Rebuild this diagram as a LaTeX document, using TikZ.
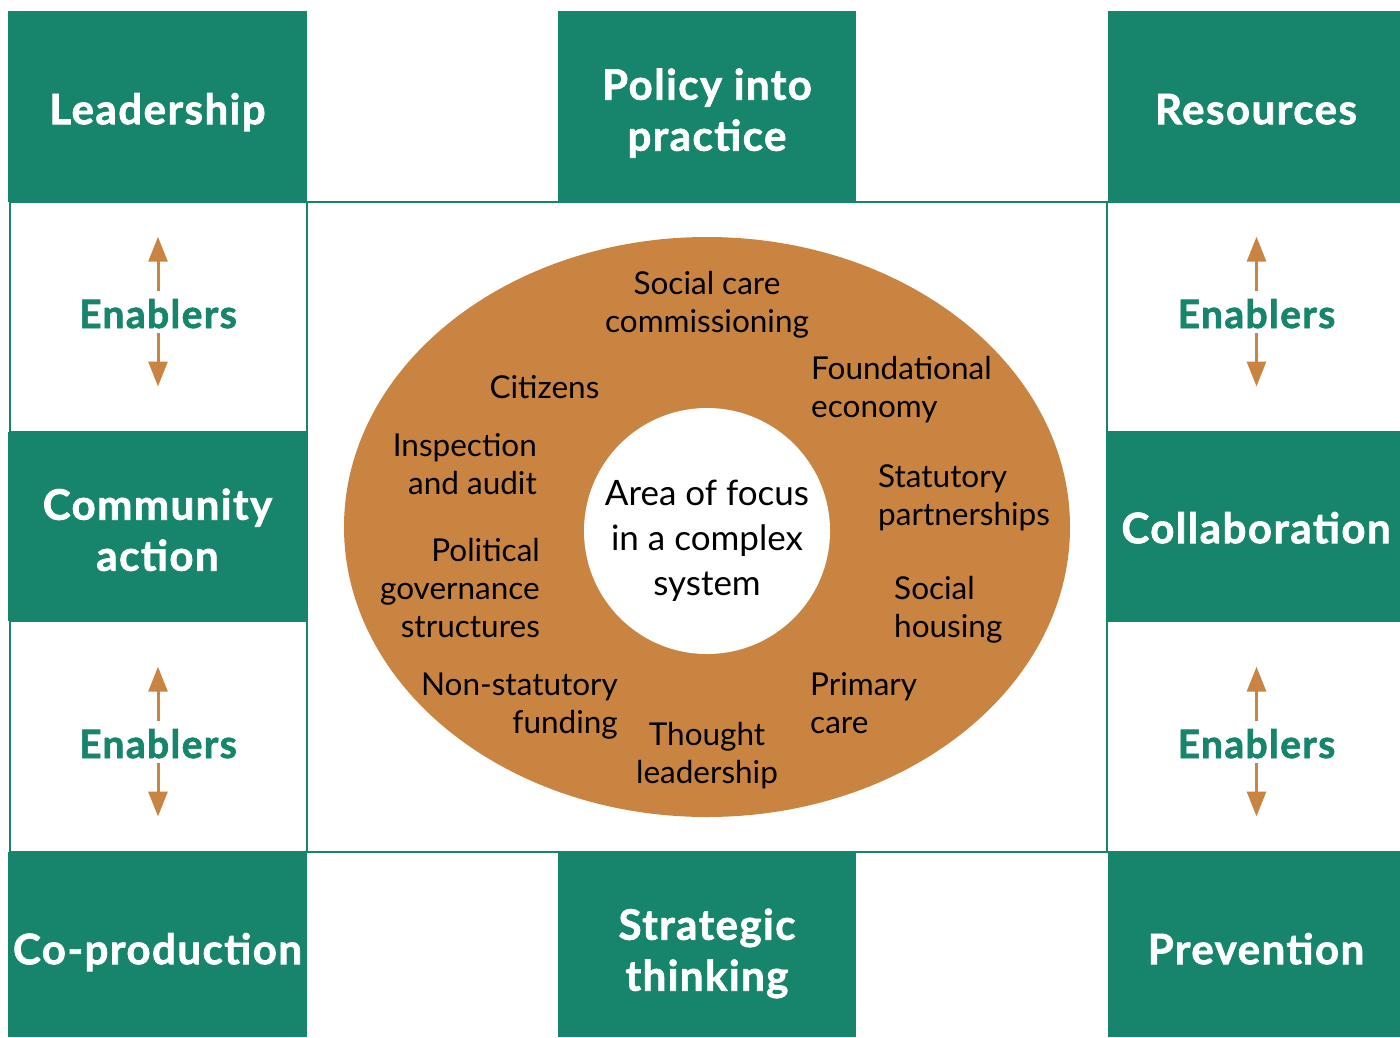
\documentclass[tikz,border=0pt]{standalone}
\usepackage{fontspec}
\setmainfont{Lato}
\newfontfamily\heavyfont{Lato}[BoldFeatures={FakeBold=1.6},LetterSpace=3.5]
\usetikzlibrary{arrows.meta}
\definecolor{tgreen}{HTML}{17856B}
\definecolor{torange}{HTML}{C98441}
\tikzset{
  ebox/.style={draw=tgreen,line width=2pt,fill=white},
  head/.style={text=white,inner sep=0pt,align=center,anchor=north,
    font=\heavyfont\fontsize{42}{51}\selectfont\bfseries},
  enab/.style={text=tgreen,anchor=base,text height=32pt,text depth=0pt,inner ysep=5pt,inner xsep=2pt,
    font=\heavyfont\fontsize{39}{44}\selectfont\bfseries},
  lab/.style={text=black,inner sep=0pt,font=\fontsize{31.5}{38}\selectfont},
  core/.style={text=black,inner sep=0pt,align=center,anchor=north,font=\fontsize{35}{45}\selectfont},
  arr/.style={draw=torange,line width=3pt,-{Triangle[width=19pt,length=25pt]}}
}
\begin{document}
\begin{tikzpicture}[x=1pt,y=-1pt]
\useasboundingbox (0,0) rectangle (1400,1037);
\fill[white] (0,0) rectangle (1400,1037);
% enabler cells
\draw[ebox] (10,202) rectangle (307,432);
\draw[ebox] (10,621) rectangle (307,852);
\draw[ebox] (1107,202) rectangle (1403,432);
\draw[ebox] (1107,621) rectangle (1403,852);
% centre frame
\draw[draw=tgreen,line width=2.5pt,fill=white] (307,202) rectangle (1107,852);
% green boxes
\fill[tgreen] (8,11) rectangle (307,202);
\fill[tgreen] (558,11) rectangle (856,202);
\fill[tgreen] (1108,11) rectangle (1400,202);
\fill[tgreen] (8,432) rectangle (307,621);
\fill[tgreen] (1108,432) rectangle (1400,621);
\fill[tgreen] (8,852) rectangle (307,1037);
\fill[tgreen] (558,852) rectangle (856,1037);
\fill[tgreen] (1108,852) rectangle (1400,1037);
% headings
\node[head] (lead) at (157.5,88.3) {\strut Leadership};
\node[head] (policy) at (707,63.8) {\strut Policy into\\\strut practice};
\node[head] (res) at (1256,88.3) {\strut Resources};
\node[head] (comm) at (157.5,483.8) {\strut Community\\\strut action};
\node[head] (collab) at (1256,507.3) {\strut Collaboration};
\node[head] (coprod) at (157.5,928.3) {\strut Co-production};
\node[head] (strat) at (707,903.8) {\strut Strategic\\\strut thinking};
\node[head] (prev) at (1256,928.3) {\strut Prevention};
% enablers
\node[enab] (eL1) at (158,328) {Enablers};
\node[enab] (eL2) at (158,758) {Enablers};
\node[enab] (eR1) at (1256.5,328) {Enablers};
\node[enab] (eR2) at (1256.5,758) {Enablers};
\coordinate (eL1u) at (158,236.7);
\coordinate (eL1d) at (158,386.5);
\coordinate (eL2u) at (158,666.7);
\coordinate (eL2d) at (158,816.5);
\coordinate (eR1u) at (1256.5,236.7);
\coordinate (eR1d) at (1256.5,386.5);
\coordinate (eR2u) at (1256.5,666.7);
\coordinate (eR2d) at (1256.5,816.5);
\draw[arr] (eL1.north) -- (eL1u);
\draw[arr] (eL1.south) -- (eL1d);
\draw[arr] (eL2.north) -- (eL2u);
\draw[arr] (eL2.south) -- (eL2d);
\draw[arr] (eR1.north) -- (eR1u);
\draw[arr] (eR1.south) -- (eR1d);
\draw[arr] (eR2.north) -- (eR2u);
\draw[arr] (eR2.south) -- (eR2d);
% ring
\fill[torange] (707,527) ellipse [x radius=363, y radius=290];
\fill[white] (707,531) circle [radius=123];
\node[core] (focus) at (707,473.5) {\strut Area of focus\\\strut in a complex\\\strut system};
% labels
\node[lab,align=center,anchor=north] (scc) at (707,267.4) {\strut Social care\\\strut commissioning};
\node[lab,align=center,anchor=north] (cit) at (544.5,371.4) {\strut Citizens};
\node[lab,align=left,anchor=north west] (found) at (811,352.4) {\strut Foundational\\\strut economy};
\node[lab,align=right,anchor=north east] (insp) at (537,429.4) {\strut Inspection\\\strut and audit};
\node[lab,align=left,anchor=north west] (stat) at (878,460.4) {\strut Statutory\\\strut partnerships};
\node[lab,align=right,anchor=north east] (pol) at (540,535) {\strut Political\\\strut governance\\\strut structures};
\node[lab,align=left,anchor=north west] (sh) at (894,572.4) {\strut Social\\\strut housing};
\node[lab,align=right,anchor=north east] (nsf) at (618,668.4) {\strut Non-statutory\\\strut funding};
\node[lab,align=center,anchor=north] (tl) at (707,718.4) {\strut Thought\\\strut leadership};
\node[lab,align=left,anchor=north west] (pc) at (810,668.4) {\strut Primary\\\strut care};
\end{tikzpicture}
\end{document}
